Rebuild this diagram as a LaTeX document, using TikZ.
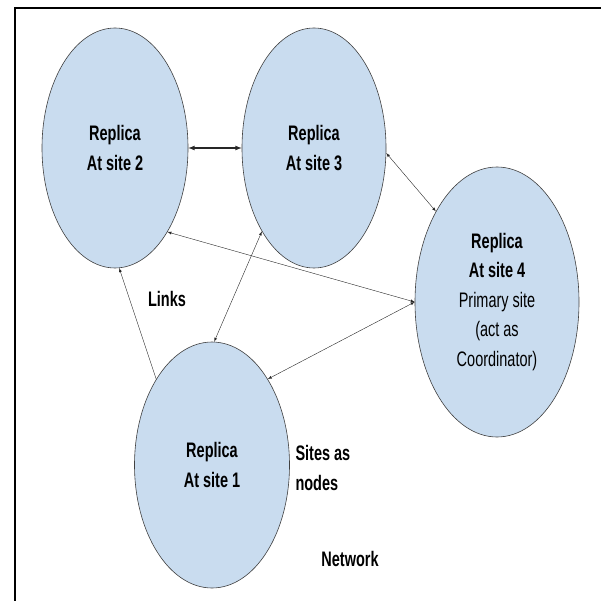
\documentclass[tikz,border=0pt]{standalone}
\usepackage{fontspec}
\setmainfont{Liberation Sans}[FakeStretch=0.69]
\usetikzlibrary{arrows, shapes}
\definecolor{siteblue}{RGB}{201,220,239}

\begin{document}
\begin{tikzpicture}[x=1pt, y=-1pt]
	\tikzstyle{site}=[ellipse, inner sep=0pt, draw=black!75, line width=0.6pt, fill=siteblue, align=center, font=\fontsize{21}{29.5}\selectfont\bfseries]
	\tikzstyle{link}=[latex-latex, draw=black!85, thin]
	\tikzstyle{onelink}=[-latex, draw=black!85, thin]
	\tikzstyle{lab}=[font=\fontsize{21}{29.5}\selectfont\bfseries, align=left]
	\useasboundingbox (0,0) rectangle (601,601);
	\draw[line width=2.2pt] (601,8) -- (15,8) -- (15,601);
	\node[site, minimum width=146, minimum height=240] (s2) at (115,148) {Replica\\At site 2};
	\node[site, minimum width=144, minimum height=240] (s3) at (314,148) {Replica\\At site 3};
	\node[site, minimum width=164, minimum height=270] (s4) at (497,302) {Replica\\At site 4\\\mdseries Primary site\\\mdseries (act as\\\mdseries Coordinator)};
	\node[site, minimum width=155, minimum height=246] (s1) at (212,465) {Replica\\At site 1};
	\node[lab] (links) at (167,299) {Links};
	\node[lab, anchor=west] (sitesas) at (292,468) {Sites as\\nodes};
	\node[lab] (network) at (350,559) {Network};
	\path (s2.east) edge [link, line width=1.2pt] (s3.west)
	(s3.-4) edge [link] (s4.124)
	(s2.-58) edge [link] (s4.180)
	(s3.-122) edge [link] (s1.89)
	(s4.180) edge [link] (s1.57)
	(s1.123) edge [onelink] (s2.-88);
\end{tikzpicture}
\end{document}
